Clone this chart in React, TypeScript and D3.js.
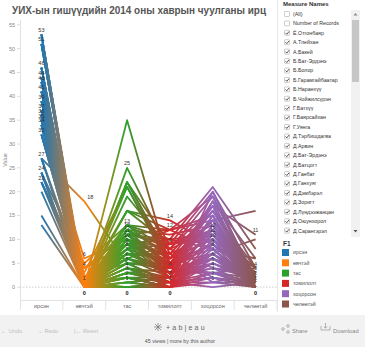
import * as d3 from 'd3';

const categories = ['ирсэн', 'өвчтэй', 'тас', 'томилолт', 'хоцорсон', 'чөлөөтэй'];
const categoryColors = ['#1f77b4', '#ff7f0e', '#2ca02c', '#d62728', '#9467bd', '#8c564b'];

// one entry per member, same order in every array
const irsen = [53, 53, 53, 51, 51, 51, 46, 46, 46, 46, 44, 44, 44, 43, 43, 43, 41, 41, 41, 41, 39, 39, 39, 37, 37, 37, 36, 36, 36, 35, 35, 35, 34, 34, 34, 32, 32, 32, 27, 27, 27, 24, 24, 24, 22, 22, 22, 20, 15, 13, 53, 51, 46, 44, 41, 39, 37, 43, 36, 34, 53, 51, 46, 44, 43, 41, 39, 37, 36, 35, 34, 32, 27, 24, 22, 35];
const ovchtei = [0, 0, 1, 0, 0, 1, 0, 2, 0, 0, 1, 0, 0, 0, 2, 0, 0, 1, 0, 0, 0, 0, 4, 0, 1, 0, 0, 0, 2, 0, 0, 6, 0, 1, 0, 0, 4, 0, 0, 18, 0, 0, 0, 5, 0, 1, 3, 0, 0, 0, 0, 0, 0, 0, 0, 0, 0, 0, 0, 0, 0, 0, 1, 0, 0, 2, 0, 0, 1, 0, 0, 0, 2, 0, 4, 0];
const tas = [0, 1, 0, 2, 1, 2, 4, 5, 3, 6, 6, 5, 7, 7, 6, 8, 9, 8, 10, 7, 11, 6, 9, 12, 9, 10, 11, 10, 8, 11, 13, 10, 8, 12, 11, 11, 9, 12, 16, 5, 16, 21, 22, 13, 22, 16, 21, 25, 22, 35, 0, 0, 2, 3, 4, 5, 3, 1, 4, 2, 2, 3, 2, 4, 5, 7, 8, 9, 7, 10, 12, 13, 13, 19, 11, 6];
const tomilolt = [1, 0, 0, 1, 2, 0, 3, 1, 4, 2, 4, 5, 3, 4, 3, 2, 4, 5, 2, 6, 3, 9, 2, 4, 7, 6, 6, 8, 9, 5, 6, 3, 12, 7, 9, 10, 10, 11, 9, 4, 12, 5, 6, 12, 9, 14, 4, 7, 5, 4, 0, 1, 0, 1, 0, 1, 2, 0, 1, 0, 0, 1, 2, 2, 1, 3, 5, 5, 7, 4, 8, 8, 10, 8, 12, 3];
const khotsorson = [3, 5, 2, 8, 4, 6, 12, 2, 9, 5, 14, 7, 3, 11, 6, 15, 16, 8, 4, 10, 5, 13, 7, 18, 2, 12, 17, 4, 11, 9, 14, 6, 19, 1, 10, 21, 8, 13, 20, 6, 15, 16, 10, 14, 12, 9, 17, 11, 14, 3, 1, 0, 3, 2, 9, 13, 6, 10, 1, 20, 7, 11, 15, 18, 5, 12, 9, 14, 16, 3, 12, 17, 11, 19, 8, 7];
const cholootei = [0, 1, 0, 1, 0, 2, 1, 0, 2, 1, 0, 2, 1, 1, 3, 0, 2, 1, 3, 0, 1, 2, 1, 6, 1, 4, 0, 2, 1, 4, 1, 0, 2, 1, 3, 8, 0, 2, 4, 2, 1, 4, 3, 2, 3, 2, 11, 4, 16, 4, 0, 1, 0, 0, 2, 0, 1, 0, 3, 1, 0, 0, 1, 0, 2, 1, 0, 2, 1, 2, 0, 2, 3, 1, 6, 10];
const series = [irsen, ovchtei, tas, tomilolt, khotsorson, cholootei];

// values that carry a text label in each column
const labelValues = [
  [53, 51, 46, 44, 43, 41, 39, 37, 36, 35, 34, 32, 27, 24, 22],
  [18, 6, 4, 1, 0],
  [25, 13, 12, 11, 10, 9, 8, 7, 6, 5, 4, 3, 2, 1, 0],
  [14, 12, 9, 4, 2, 1, 0],
  [12, 11, 10, 9, 8, 7, 6, 5, 4, 3, 2, 1],
  [11, 4, 3, 2, 1, 0],
];

const measureNames = [
  '(All)', 'Number of Records', 'Ё.Отгонбаяр', 'А.Тлейхан', 'А.Бакей', 'Б.Бат-Эрдэнэ', 'Б.Болор',
  'Б.Гарамгайбаатар', 'Б.Наранхүү', 'Б.Чойжилсүрэн', 'Г.Батхүү', 'Г.Баярсайхан', 'Г.Уянга',
  'Д.Тэрбишдагва', 'Д.Арвин', 'Д.Бат-Эрдэнэ', 'Д.Батцогт', 'Д.Ганбат', 'Д.Ганхуяг', 'Д.Дэмбэрэл',
  'Д.Зоригт', 'Д.Лүндээжанцан', 'Д.Оюунхорол', 'Д.Сарангэрэл',
];
const measureChecked = measureNames.map((_, i) => i >= 2);

const FONT = '"Liberation Sans", Arial, sans-serif';

export default function App() {
  const width = 386;
  const height = 358;
  const plot = { left: 20, right: 277, top: 20, bottom: 300 };

  const x = d3.scaleBand<string>().domain(categories).range([plot.left, plot.right]);
  const cx = (c: string) => (x(c) as number) + x.bandwidth() / 2;
  const y = d3.scaleLinear().domain([-2.7, 56]).range([plot.bottom, plot.top]);

  const members = d3.range(irsen.length);
  const line = d3
    .line<number>()
    .x((_, i) => cx(categories[i]))
    .y((v) => y(v));

  const x0 = cx(categories[0]);
  const x5 = cx(categories[categories.length - 1]);

  return (
    <svg
      width={width}
      height={height}
      style={{ position: 'absolute', left: 0, top: 0, fontFamily: FONT }}
    >
      <defs>
        <linearGradient id="f1grad" gradientUnits="userSpaceOnUse" x1={x0} x2={x5} y1={0} y2={0}>
          {categories.map((c, i) => (
            <stop key={c} offset={(cx(c) - x0) / (x5 - x0)} stopColor={categoryColors[i]} />
          ))}
        </linearGradient>
      </defs>
      <rect width={width} height={height} fill="#fff" />

      {/* title */}
      <text x={12} y={14} fontSize={10} fontWeight="bold" fill="#555" textLength={254} lengthAdjust="spacingAndGlyphs">
        УИХ-ын гишүүдийн 2014 оны хаврын чуулганы ирц
      </text>

      {/* y axis */}
      <line x1={plot.left + 0.5} x2={plot.left + 0.5} y1={plot.top} y2={plot.bottom + 10} stroke="#e2e2e2" />
      {y.ticks(12).map((t) => (
        <g key={t}>
          <line x1={plot.left - 3} x2={plot.left} y1={y(t)} y2={y(t)} stroke="#ddd" />
          <text x={15} y={y(t)} dy="0.35em" fontSize={5.5} fill="#888" textAnchor="end">
            {t}
          </text>
        </g>
      ))}
      <text transform={`translate(7,${(plot.top + plot.bottom) / 2}) rotate(-90)`} fontSize={5.5} fill="#888" textAnchor="middle">
        Value
      </text>

      {/* zero line */}
      <line x1={plot.left} x2={plot.right} y1={y(0)} y2={y(0)} stroke="#cfcfcf" strokeDasharray="1.5,1.5" />

      {/* x axis header */}
      <line x1={plot.left} x2={plot.right} y1={plot.bottom + 0.5} y2={plot.bottom + 0.5} stroke="#e2e2e2" />
      {categories.map((c) => (
        <g key={c}>
          <line x1={(x(c) as number) + x.bandwidth()} x2={(x(c) as number) + x.bandwidth()} y1={plot.bottom} y2={plot.bottom + 10} stroke="#e2e2e2" />
          <text x={cx(c)} y={308} fontSize={5.5} fill="#666" textAnchor="middle">
            {c}
          </text>
        </g>
      ))}
      <line x1={277.5} x2={277.5} y1={0} y2={312} stroke="#e6e6e6" />

      {/* lines */}
      <g fill="none" stroke="url(#f1grad)" strokeWidth={1.8} strokeLinejoin="round">
        {members.map((m) => (
          <path key={m} d={line(series.map((s) => s[m])) || ''} />
        ))}
      </g>

      {/* labels */}
      <g fontSize={5.5} textAnchor="middle">
        {categories.map((c, ci) =>
          labelValues[ci].map((v) =>
            v === 0 ? (
              <text key={c + v} x={cx(c)} y={y(0) + 8} fill="#111" fontWeight="bold">
                0
              </text>
            ) : (
              <text key={c + v} x={cx(c) + (v === 18 ? 6 : 0)} y={y(v) - 2.5} fill="#333">
                {v}
              </text>
            ),
          ),
        )}
      </g>

      {/* measure names legend */}
      <text x={283} y={6} fontSize={6} fontWeight="bold" fill="#333">
        Measure Names
      </text>
      {measureNames.map((n, i) => {
        const cy = 14 + i * 9.42;
        return (
          <g key={n}>
            <rect x={284.5} y={cy - 2.5} width={5} height={5} fill="#fff" stroke="#aaa" strokeWidth={0.6} rx={0.8} />
            {measureChecked[i] && (
              <path d={`M${285.5},${cy} l1.3,1.4 l2.3,-2.8`} fill="none" stroke="#444" strokeWidth={0.9} />
            )}
            <text x={293} y={cy} dy="0.35em" fontSize={5.3} fill="#333">
              {n}
            </text>
          </g>
        );
      })}
      <rect x={351} y={10} width={9} height={227} fill="#f1f1f1" />
      <rect x={352} y={20} width={7} height={62} fill="#c6c6c6" />
      <path d="M353.5,15.5 l2,-2.5 l2,2.5 z" fill="#888" />
      <path d="M353.5,230 l2,2.5 l2,-2.5 z" fill="#555" />

      {/* F1 legend */}
      <text x={283} y={246} fontSize={6.5} fontWeight="bold" fill="#333">
        F1
      </text>
      {categories.map((c, i) => (
        <g key={c}>
          <rect x={282} y={249 + i * 10.3} width={7} height={7} fill={categoryColors[i]} />
          <text x={293} y={252.5 + i * 10.3} dy="0.35em" fontSize={5.3} fill="#555">
            {c}
          </text>
        </g>
      ))}

      {/* toolbar */}
      <rect x={0} y={315} width={365} height={32} fill="#f2f2f2" />
      <g fontSize={5.8} fill="#bdbdbd">
        <text x={1} y={333}>← Undo</text>
        <text x={37} y={333}>→ Redo</text>
        <text x={74} y={333}>|← Reset</text>
      </g>
      <g stroke="#777" strokeWidth={0.7}>
        <line x1={158} x2={158} y1={323} y2={331} />
        <line x1={154} x2={162} y1={327} y2={327} />
        <line x1={155} x2={161} y1={324} y2={330} />
        <line x1={161} x2={155} y1={324} y2={330} />
      </g>
      <text x={166} y={330} fontSize={7} fill="#666" letterSpacing={2.2}>
        +ab|eau
      </text>
      <text x={180} y={343} fontSize={5.3} fill="#555" textAnchor="middle">
        45 views | more by this author
      </text>
      <g fill="none" stroke="#888" strokeWidth={0.6}>
        <circle cx={283} cy={329} r={1.3} />
        <circle cx={288} cy={326} r={1.3} />
        <circle cx={288} cy={332} r={1.3} />
        <path d="M321,326 v4 h9 v-4 M325.5,323 v5 M323.8,326.5 l1.7,1.7 l1.7,-1.7" />
      </g>
      <g fontSize={5.8} fill="#888">
        <text x={292} y={333}>Share</text>
        <text x={333} y={333}>Download</text>
      </g>
    </svg>
  );
}
